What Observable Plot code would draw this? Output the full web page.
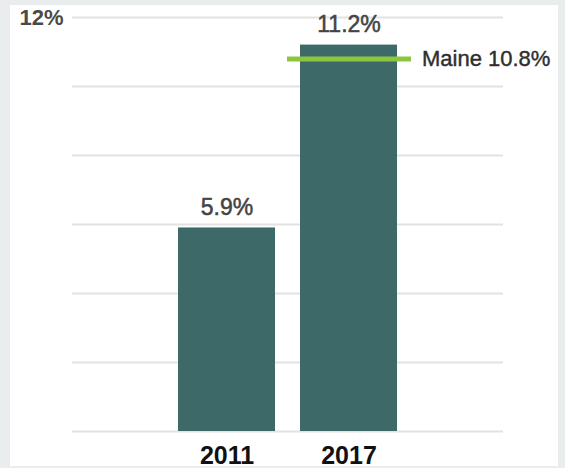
<!DOCTYPE html>
<html>
<head>
<meta charset="utf-8">
<script src="https://cdn.jsdelivr.net/npm/d3@7"></script>
<script src="https://cdn.jsdelivr.net/npm/@observablehq/plot@0.6"></script>
<style>
  html, body { margin: 0; padding: 0; background: #e9edee; }
  #wrap { position: relative; width: 565px; height: 468px; overflow: hidden; }
  #panel { position: absolute; left: 10px; top: 5px; width: 548px; height: 461px; background: #ffffff; }
  #chart { position: absolute; left: 0; top: 0; }
  #chart svg { background: transparent; }
</style>
</head>
<body>
<div id="wrap"><div id="panel"></div><div id="chart"></div></div>
<script>
const years = ["2011", "2017"];
const rates = [5.9, 11.2];
const valueLabels = ["5.9%", "11.2%"];
const benchmarkName = "Maine";
const benchmarkYear = "2017";
const benchmarkValue = 10.8;
const yTicks = [0, 2, 4, 6, 8, 10, 12];
const yLabelTicks = [12];

const bars = years.map((y, i) => ({year: y, rate: rates[i], label: valueLabels[i]}));
const bench = [{year: benchmarkYear, value: benchmarkValue, label: `${benchmarkName} ${benchmarkValue}%`}];

const font = "'Liberation Sans', Arial, Helvetica, sans-serif";

const chart = Plot.plot({
  width: 565,
  height: 468,
  marginLeft: 72,
  marginRight: 62,
  marginTop: 17,
  marginBottom: 37,
  style: {fontFamily: font, background: "transparent", overflow: "visible"},
  x: {domain: years, paddingInner: 0.204, paddingOuter: 0.865, label: null},
  y: {domain: [0, 12], label: null},
  marks: [
    Plot.ruleY(yTicks, {stroke: "#e2e2e2", strokeWidth: 2}),
    Plot.barY(bars, {x: "year", y: "rate", fill: "#3d6a69"}),
    Plot.tickY(bench, {x: "year", y: "value", stroke: "#8cc63f", strokeWidth: 5, insetLeft: -13, insetRight: -14}),
    Plot.text(bars, {x: "year", y: "rate", text: "label", dy: -20, fontSize: 23, fill: "#444444", stroke: "#444444", strokeWidth: 0.5, fontFamily: font}),
    Plot.text(bench, {x: "year", y: "value", text: "label", dx: 73, textAnchor: "start", fontSize: 22, fill: "#2e2e2e", stroke: "#2e2e2e", strokeWidth: 0.4, fontFamily: font}),
    Plot.axisY(yLabelTicks, {tickSize: 0, tickPadding: 9, tickFormat: d => d + "%", fontSize: 22, fontWeight: "bold", fill: "#4a4a4a", label: null}),
    Plot.axisX({tickSize: 0, tickPadding: 15, fontSize: 25, fontWeight: "bold", fill: "#111111", label: null})
  ]
});
document.getElementById("chart").appendChild(chart);
</script>
</body>
</html>
